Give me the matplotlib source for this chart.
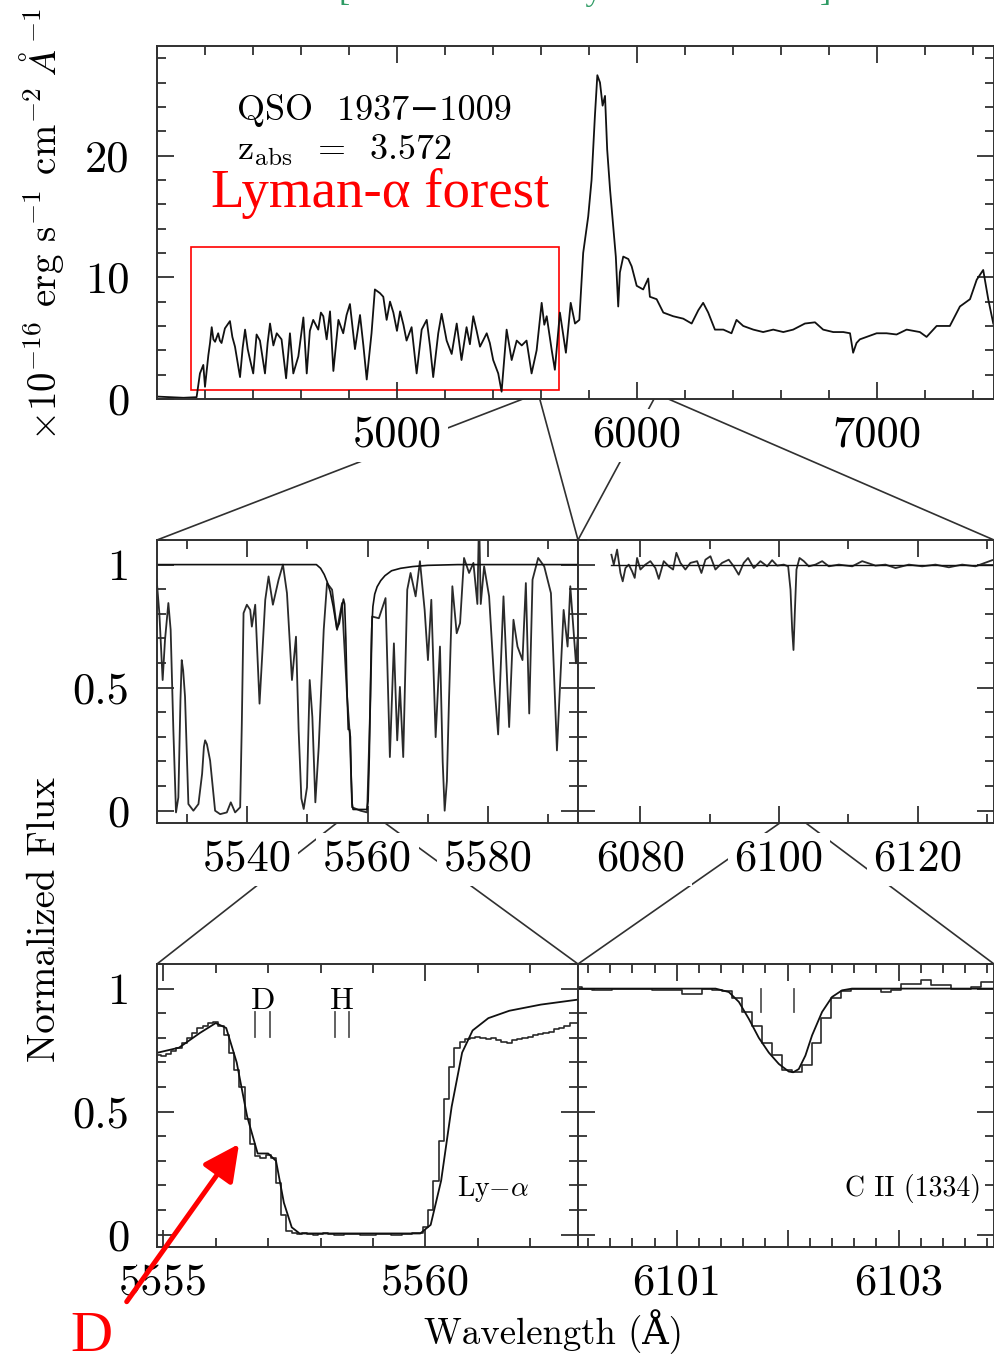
import matplotlib
matplotlib.use('agg')
import matplotlib.pyplot as plt
from matplotlib.patches import ConnectionPatch, Rectangle, FancyArrowPatch
from matplotlib.ticker import MultipleLocator
import numpy as np

# ---- top panel: full QSO spectrum (x1e-16 erg/s/cm2/A) ----
top_wave = [3999, 4054, 4110, 4165, 4179, 4193, 4200, 4214, 4221, 4228, 4235, 4242, 4255,
            4262, 4269, 4283, 4304, 4314, 4325, 4346, 4357, 4367, 4378, 4388, 4401, 4415,
            4429, 4450, 4461, 4471, 4485, 4499, 4519, 4538, 4554, 4568, 4589, 4600, 4610,
            4624, 4637, 4651, 4672, 4683, 4693, 4707, 4721, 4735, 4756, 4776, 4790, 4804,
            4825, 4846, 4860, 4874, 4894, 4908, 4929, 4943, 4957, 4971, 4985, 5000, 5013,
            5027, 5040, 5061, 5082, 5103, 5124, 5138, 5151, 5172, 5186, 5207, 5228, 5249,
            5269, 5290, 5304, 5318, 5332, 5346, 5374, 5387, 5401, 5422, 5436, 5457, 5478,
            5499, 5520, 5540, 5561, 5582, 5603, 5614, 5624, 5645, 5658,
            5679, 5704, 5724, 5742, 5760, 5776, 5797, 5811, 5825, 5835, 5846, 5857,
            5867, 5876, 5888, 5901, 5912, 5922, 5929, 5943, 5964, 5978, 5999, 6026,
            6047, 6054, 6082, 6110, 6151, 6193, 6228, 6256, 6276, 6297, 6325, 6360,
            6394, 6415, 6443, 6485, 6526, 6568, 6610, 6651, 6700, 6742, 6776, 6818,
            6860, 6888, 6901, 6915, 6929, 6957, 6999, 7040, 7082, 7124, 7179, 7207,
            7249, 7304, 7346, 7388, 7416, 7443, 7464, 7485]
top_flux = [0.2, 0.15, 0.1, 0.15, 2.1, 2.8, 1.0, 3.6, 4.6, 5.9, 4.9, 4.7, 5.4,
            4.8, 4.6, 5.8, 6.4, 5.1, 4.3, 1.8, 4.2, 5.7, 4.1, 3.2, 2.1, 5.3,
            4.8, 2.1, 4.6, 6.2, 4.4, 5.4, 4.9, 1.7, 5.4, 2.1, 3.5, 5.2, 6.7,
            2.1, 5.6, 6.5, 5.7, 7.1, 6.8, 4.9, 7.2, 2.3, 6.5, 5.4, 6.9, 7.8,
            4.1, 6.9, 4.4, 1.6, 5.4, 9.0, 8.7, 8.4, 6.5, 8.0, 7.1, 5.6, 7.2,
            6.1, 4.8, 5.9, 2.1, 5.7, 6.5, 4.3, 1.8, 5.4, 7.0, 4.8, 3.7, 6.2,
            3.2, 5.9, 4.5, 6.8, 5.6, 4.3, 5.4, 4.6, 3.2, 2.1, 0.6, 5.7, 3.2,
            4.8, 4.4, 4.8, 2.1, 4.0, 7.9, 6.1, 6.8, 4.0, 2.4,
            7.1, 3.8, 7.9, 6.2, 6.5, 12.0, 15.0, 18.0, 23.3, 26.6, 26.0, 24.1,
            24.9, 20.5, 17.2, 14.2, 11.7, 7.6, 10.4, 11.7, 11.5, 10.9, 9.3, 9.0,
            9.9, 8.4, 8.2, 7.1, 6.8, 6.6, 6.2, 7.3, 7.9, 7.1, 5.7, 5.7,
            5.4, 6.5, 6.0, 5.7, 5.5, 5.7, 5.5, 5.7, 6.2, 6.3, 5.7, 5.5,
            5.5, 5.4, 3.8, 4.6, 4.9, 5.1, 5.4, 5.4, 5.3, 5.7, 5.5, 5.1,
            6.0, 6.0, 7.6, 8.2, 9.8, 10.6, 8.2, 6.2]

# ---- middle left: normalized Lyman-alpha forest ----
forest_wave = [5524.94, 5525.39, 5525.94, 5526.33, 5526.89, 5527.27, 5527.72, 5528.16,
               5528.55, 5528.9, 5529.11, 5529.35, 5529.66, 5530.22, 5531.05, 5531.89,
               5532.5, 5532.8, 5533.0, 5533.3, 5533.83, 5534.66, 5535.5, 5536.61,
               5537.27, 5537.99, 5538.83, 5539.1, 5539.39, 5539.94, 5540.5, 5540.77,
               5541.33, 5542.05, 5543.0, 5543.55, 5544.27, 5545.22, 5545.94, 5546.61,
               5547.44, 5548.11, 5548.55, 5549.0, 5549.39, 5549.94, 5550.39, 5550.83,
               5551.33, 5551.89, 5552.72, 5553.27, 5554.11, 5554.94, 5555.77, 5556.61,
               5557.05, 5557.44, 5558.83, 5559.94, 5560.5, 5560.77, 5561.89, 5563.0,
               5563.72, 5564.39, 5564.94, 5565.39, 5565.94, 5566.61, 5567.16, 5568.0,
               5568.72, 5569.5, 5570.05, 5570.61, 5571.33, 5572.05, 5572.5, 5572.83,
               5573.2, 5573.55, 5574.11, 5574.83, 5575.39, 5576.05, 5576.89, 5577.61,
               5578.27, 5578.55, 5578.83, 5579.39, 5580.22, 5581.05, 5581.72, 5582.61,
               5583.55, 5584.27, 5584.94, 5585.77, 5586.33, 5586.89, 5587.44, 5588.38,
               5589.38, 5590.5, 5591.5, 5592.61, 5593.27, 5593.72, 5594.66, 5595.22]
forest_flux = [0.939, 0.803, 0.531, 0.694, 0.844, 0.735, 0.327, -0.007,
               0.054, 0.45, 0.612, 0.57, 0.463, 0.027, 0.0, 0.027,
               0.15, 0.26, 0.286, 0.27, 0.204, 0.0, -0.014, -0.007,
               0.034, -0.007, 0.014, 0.35, 0.803, 0.837, 0.816, 0.748,
               0.837, 0.435, 0.857, 0.952, 0.837, 0.939, 1.0, 0.884,
               0.531, 0.707, 0.327, 0.05, 0.007, 0.095, 0.531, 0.381,
               0.034, 0.259, 0.735, 0.925, 0.898, 0.735, 0.844, 0.463,
               0.313, 0.014, 0.0, -0.007, 0.463, 0.789, 0.782, 0.864,
               0.218, 0.68, 0.286, 0.503, 0.218, 0.898, 0.966, 0.871,
               1.014, 0.816, 0.612, 0.857, 0.299, 0.667, 0.2, 0.0,
               0.12, 0.449, 0.912, 0.721, 0.762, 1.027, 0.966, 1.007,
               0.84, 1.2, 0.84, 0.993, 0.871, 0.531, 0.31, 0.871,
               0.34, 0.776, 0.667, 0.612, 0.925, 0.395, 0.939, 1.027,
               0.993, 0.884, 0.245, 0.816, 0.667, 0.912, 0.599, 0.803]

# fitted D + H Lyman-alpha profile (used in middle-left and bottom-left)
lya_model_wave = [5525.0, 5551.5, 5552.2, 5552.8, 5553.3, 5553.8, 5554.3, 5554.9, 5555.3,
                  5555.7, 5556.0, 5556.2, 5556.4, 5556.6, 5556.8, 5557.0, 5557.15, 5557.3,
                  5557.45, 5557.6, 5559.9, 5560.1, 5560.3, 5560.5, 5560.7, 5560.9, 5561.2,
                  5561.6, 5562.2, 5562.9, 5564.0, 5565.5, 5567.5, 5570.0, 5575.0, 5595.0]
lya_model_flux = [1.0, 1.0, 0.985, 0.96, 0.93, 0.89, 0.83, 0.74, 0.76,
                  0.82, 0.86, 0.84, 0.70, 0.48, 0.33, 0.33, 0.30, 0.13,
                  0.03, 0.005, 0.005, 0.04, 0.22, 0.52, 0.74, 0.83, 0.88,
                  0.91, 0.935, 0.955, 0.975, 0.985, 0.992, 0.997, 1.0, 1.0]

# ---- middle right: region around C II ----
cii_wide_wave = [6075.82, 6076.16, 6076.64, 6077.12, 6077.45, 6077.84, 6078.32, 6078.8,
                 6079.18, 6079.52, 6080.0, 6080.72, 6081.44, 6082.16, 6082.65, 6083.37,
                 6084.09, 6084.71, 6085.19, 6085.77, 6086.49, 6087.21, 6088.18, 6088.8,
                 6089.38, 6090.1, 6090.82, 6091.78, 6092.74, 6093.46, 6094.18, 6094.9,
                 6095.53, 6096.35, 6097.31, 6098.28, 6099.0, 6099.72, 6100.68, 6101.31,
                 6101.65, 6101.89, 6102.08, 6102.27, 6102.51, 6102.95, 6103.57, 6104.29,
                 6105.25, 6106.22, 6107.18, 6108.62, 6110.55, 6111.99, 6113.91, 6115.35,
                 6116.8, 6118.72, 6120.64, 6122.56, 6124.49, 6126.41, 6128.33, 6130.74]
cii_wide_flux = [1.04, 1.0, 1.061, 0.966, 0.932, 0.986, 1.0, 0.973,
                 0.946, 1.027, 0.98, 1.0, 1.014, 0.986, 0.942, 1.014,
                 0.993, 0.98, 1.048, 1.007, 0.98, 1.007, 1.014, 0.966,
                 1.02, 1.034, 0.98, 1.007, 1.02, 0.993, 0.959, 1.007,
                 1.027, 0.986, 1.014, 0.993, 1.018, 0.996, 1.0, 0.993,
                 0.898, 0.735, 0.653, 0.803, 0.98, 1.027, 1.014, 0.993,
                 1.0, 1.014, 0.993, 1.0, 0.993, 1.014, 0.996, 1.0,
                 0.986, 1.0, 0.993, 1.0, 0.989, 1.0, 0.993, 1.018]
cii_wide_cont = [6075.82, 6131.5]

# ---- bottom left: Ly-alpha pixels ----
ly_pix_wave = np.round(np.arange(5554.9, 5562.95, 0.1), 2)
ly_pix_flux = [0.73, 0.725, 0.735, 0.745, 0.76, 0.78, 0.80, 0.82, 0.84, 0.85,
               0.86, 0.865, 0.85, 0.81, 0.74, 0.67, 0.60, 0.47, 0.37, 0.32,
               0.31, 0.325, 0.31, 0.21, 0.08, 0.015, 0.006, 0.004, 0.006, 0.002,
               0.0, 0.003, 0.005, 0.001, -0.002, 0.0, 0.003, 0.004, 0.001, -0.003,
               -0.002, 0.0, 0.002, 0.004, 0.001, 0.0, -0.002, 0.001, 0.003, 0.006,
               0.008, 0.03, 0.10, 0.22, 0.38, 0.55, 0.68, 0.76, 0.785, 0.795,
               0.80, 0.805, 0.80, 0.795, 0.80, 0.79, 0.785, 0.78, 0.79, 0.795,
               0.80, 0.805, 0.81, 0.815, 0.82, 0.825, 0.835, 0.84, 0.85, 0.86, 0.86]

# ---- bottom right: C II (1334) pixels and fit ----
cii_pix_wave = np.round(np.arange(6100.1, 6103.9, 0.09), 2)
cii_pix_flux = [1.007, 1.0, 0.993, 0.993, 0.997, 1.0, 1.0, 1.0, 0.995, 0.993,
                0.993, 0.98, 0.98, 1.0, 0.995, 0.99, 0.96, 0.905, 0.85, 0.78,
                0.73, 0.67, 0.66, 0.69, 0.78, 0.88, 0.96, 0.99, 1.0, 1.0,
                1.0, 0.986, 0.993, 1.02, 1.02, 1.034, 1.014, 1.014, 1.0, 1.0,
                1.007, 1.025, 1.025]
cii_model_wave = [6100.1, 6101.35, 6101.47, 6101.56, 6101.65, 6101.74, 6101.83, 6101.92,
                  6102.01, 6102.05, 6102.1, 6102.16, 6102.22, 6102.31, 6102.4, 6102.49,
                  6102.58, 6103.9]
cii_model_flux = [1.0, 1.0, 0.986, 0.946, 0.877, 0.80, 0.74, 0.694,
                  0.663, 0.66, 0.673, 0.728, 0.81, 0.905, 0.966, 0.993,
                  1.0, 1.0]

# component markers
d_marks = [5556.75, 5557.04]
h_marks = [5558.27, 5558.55]
cii_marks = [6101.76, 6102.06]

# axis ranges and ticks
top_xlim, top_ylim = (4000, 7488), (0, 29)
top_xticks, top_xlabels = [5000, 6000, 7000], ['5000', '6000', '7000']
top_yticks, top_ylabels = [0, 10, 20], ['0', '10', '20']
midL_xlim, midR_xlim = (5525, 5595), (6071, 6131)
botL_xlim, botR_xlim = (5554.88, 5562.91), (6100.11, 6103.86)
norm_ylim = (-0.05, 1.1)
norm_yticks, norm_ylabels = [0, 0.5, 1], ['0', '0.5', '1']
forest_box = (4142, 0.74, 5675, 12.5)   # x0, y0, x1, y1 of the red box

SPINE = '#303030'
LINE = '#111111'
DATA = '#2a2a2a'
RED = '#ff0000'
GREEN = '#2e9b64'

plt.rcParams['font.family'] = ['cmr10', 'DejaVu Serif']
plt.rcParams['mathtext.fontset'] = 'cm'
plt.rcParams['axes.unicode_minus'] = False
plt.rcParams['axes.formatter.use_mathtext'] = True

W, H = 994.0, 1354.0

def box(left, top, right, bottom):
    # pixel rectangle -> figure fraction
    return [left / W, 1 - bottom / H, (right - left) / W, (bottom - top) / H]

def styleAxes(ax, xticks, xlabels, xminor, yticks, ylabels, yminor):
    ax.set_xticks(xticks)
    ax.set_xticklabels(xlabels)
    ax.xaxis.set_minor_locator(MultipleLocator(xminor))
    ax.set_yticks(yticks)
    ax.set_yticklabels(ylabels)
    ax.yaxis.set_minor_locator(MultipleLocator(yminor))
    ax.tick_params(which='both', direction='in', top=True, right=True,
                   width=1.3, color=SPINE, labelsize=32)
    ax.tick_params(which='major', length=12)
    ax.tick_params(which='minor', length=6.5)
    ax.tick_params(axis='x', pad=12)
    ax.tick_params(axis='y', pad=20)
    for s in ax.spines.values():
        s.set_color(SPINE)
        s.set_linewidth(1.4)
    for lab in ax.get_xticklabels() + ax.get_yticklabels():
        lab.set_bbox(dict(facecolor='white', edgecolor='none', boxstyle='square,pad=0.15'))

fig = plt.figure(figsize=(9.94, 13.54), dpi=100)
axTop = fig.add_axes(box(157, 46, 994, 399))
axMidL = fig.add_axes(box(157, 540, 578, 823))
axMidR = fig.add_axes(box(578, 540, 994, 823))
axBotL = fig.add_axes(box(157, 964, 578, 1247))
axBotR = fig.add_axes(box(578, 964, 994, 1247))

# top panel
axTop.plot(top_wave, top_flux, color=LINE, lw=1.3)
styleAxes(axTop, top_xticks, top_xlabels, 200, top_yticks, top_ylabels, 2)
axTop.set_xlim(top_xlim)
axTop.set_ylim(top_ylim)
axTop.text(0.0959, 0.790, 'QSO  1937\u22121009', transform=axTop.transAxes,
           fontsize=26, ha='left', va='baseline')
axTop.text(0.0959, 0.677, r'z$_{\rm abs}$  =  3.572', transform=axTop.transAxes,
           fontsize=26, ha='left', va='baseline')
axTop.text(0.0645, 0.544, 'Lyman-\u03b1 forest', transform=axTop.transAxes, color=RED,
           fontsize=39.5, ha='left', va='baseline', family='Liberation Serif')
axTop.add_patch(Rectangle((forest_box[0], forest_box[1]), forest_box[2] - forest_box[0],
                          forest_box[3] - forest_box[1], fill=False, edgecolor=RED, lw=1.2))

# middle panels
axMidL.plot(forest_wave, forest_flux, color=DATA, lw=1.3)
axMidL.plot(lya_model_wave, lya_model_flux, color=LINE, lw=1.2)
styleAxes(axMidL, [5540, 5560, 5580], ['5540', '5560', '5580'], 10,
          norm_yticks, norm_ylabels, 0.1)
axMidL.set_xlim(midL_xlim)
axMidL.set_ylim(norm_ylim)

axMidR.plot(cii_wide_wave, cii_wide_flux, color=DATA, lw=1.3)
axMidR.plot(cii_wide_cont, [1.0, 1.0], color=LINE, lw=1.0)
styleAxes(axMidR, [6080, 6100, 6120], ['6080', '6100', '6120'], 10,
          norm_yticks, ['', '', ''], 0.1)
axMidR.set_xlim(midR_xlim)
axMidR.set_ylim(norm_ylim)

# bottom panels
axBotL.step(ly_pix_wave, ly_pix_flux, where='mid', color=DATA, lw=1.2)
axBotL.plot(lya_model_wave, lya_model_flux, color=LINE, lw=1.3)
for wl in d_marks + h_marks:
    axBotL.plot([wl, wl], [0.803, 0.905], color='#555555', lw=1.3)
axBotL.text(np.mean(d_marks), 0.918, 'D', ha='center', va='baseline', fontsize=23)
axBotL.text(np.mean(h_marks), 0.918, 'H', ha='center', va='baseline', fontsize=23)
axBotL.text(0.799, 0.180, r'Ly$-\alpha$', transform=axBotL.transAxes,
            ha='center', va='baseline', fontsize=20)
styleAxes(axBotL, [5555, 5560], ['5555', '5560'], 1, norm_yticks, norm_ylabels, 0.1)
axBotL.set_xlim(botL_xlim)
axBotL.set_ylim(norm_ylim)

axBotR.step(cii_pix_wave, cii_pix_flux, where='mid', color=DATA, lw=1.2)
axBotR.plot(cii_model_wave, cii_model_flux, color=LINE, lw=1.3)
for wl in cii_marks:
    axBotR.plot([wl, wl], [0.905, 1.0], color='#555555', lw=1.3)
axBotR.text(0.805, 0.180, 'C II (1334)', transform=axBotR.transAxes,
            ha='center', va='baseline', fontsize=20)
styleAxes(axBotR, [6101, 6102, 6103], ['6101', '', '6103'], 0.2,
          norm_yticks, ['', '', ''], 0.1)
axBotR.set_xlim(botR_xlim)
axBotR.set_ylim(norm_ylim)

# zoom connectors
def connect(axFrom, xFrom, axTo, cornerTo):
    con = ConnectionPatch(xyA=(xFrom, 0), coordsA=axFrom.get_xaxis_transform(),
                          xyB=cornerTo, coordsB=axTo.transAxes,
                          color=SPINE, lw=1.2, zorder=-1)
    fig.add_artist(con)

connect(axTop, midL_xlim[0], axMidL, (0, 1))
connect(axTop, midL_xlim[1], axMidL, (1, 1))
connect(axTop, midR_xlim[0], axMidR, (0, 1))
connect(axTop, midR_xlim[1], axMidR, (1, 1))
connect(axMidL, botL_xlim[0], axBotL, (0, 1))
connect(axMidL, botL_xlim[1], axBotL, (1, 1))
connect(axMidR, botR_xlim[0], axBotR, (0, 1))
connect(axMidR, botR_xlim[1], axBotR, (1, 1))

# axis titles
fig.text(42 / W, 1 - 224 / H, r'$\times10^{-16}$ erg s$^{-1}$ cm$^{-2}$ $\AA^{-1}$',
         rotation=90, ha='center', va='center', fontsize=28)
fig.text(45 / W, 1 - 920 / H, 'Normalized Flux', rotation=90,
         ha='center', va='center', fontsize=28)
fig.text(554 / W, 1 - 1332 / H, 'Wavelength (\u00c5)', ha='center', va='center', fontsize=26.5)

# cut-off green heading at the very top: only the descenders show
fig.text(585 / W, 1.0, '[ Deuterium in a Lyman-\u03b1 absorber ]', ha='center',
         va='baseline', color=GREEN, fontsize=24, family='Liberation Serif')

# red arrow and "D" annotation
arrow = FancyArrowPatch((126.7 / W, 1 - 1301.7 / H), (239 / W, 1 - 1144 / H),
                        transform=fig.transFigure, color=RED, lw=3.6,
                        arrowstyle='-|>,head_length=1.1,head_width=0.55',
                        mutation_scale=20, shrinkA=0, shrinkB=0, zorder=5)
fig.add_artist(arrow)
fig.text(91 / W, 1 - 1351 / H, 'D', ha='center', va='baseline', color=RED,
         fontsize=42, family='Liberation Serif')

fig.savefig('out.png', dpi=100)
